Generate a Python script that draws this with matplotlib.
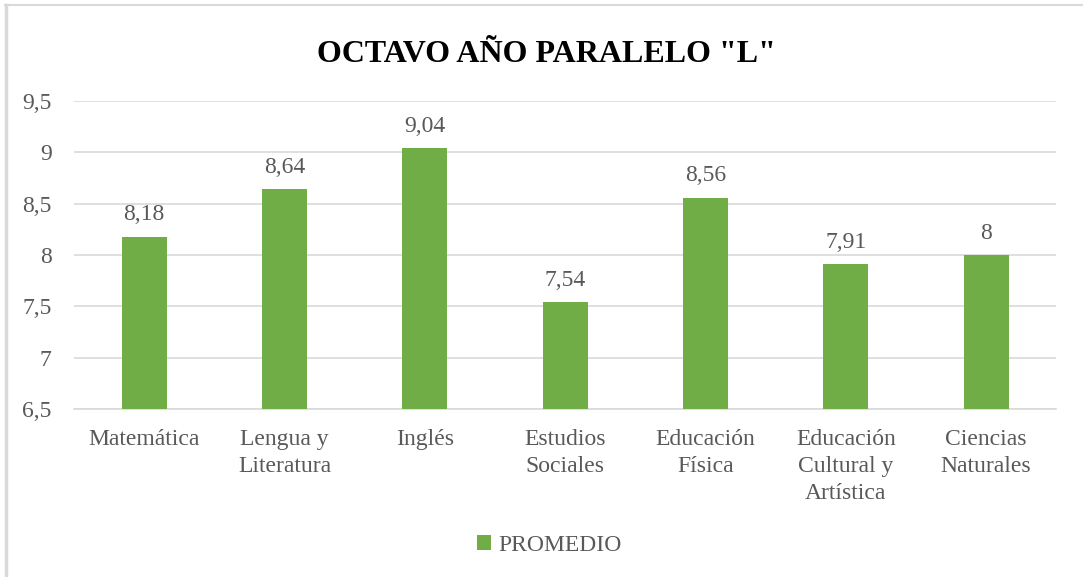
import matplotlib
matplotlib.use("Agg")
import matplotlib.pyplot as plt
from matplotlib.lines import Line2D

categories = ["Matemática", "Lengua y\nLiteratura", "Inglés", "Estudios\nSociales",
              "Educación\nFísica", "Educación\nCultural y\nArtística", "Ciencias\nNaturales"]
values = [8.18, 8.64, 9.04, 7.54, 8.56, 7.91, 8.0]
value_labels = ["8,18", "8,64", "9,04", "7,54", "8,56", "7,91", "8"]
yticks = [6.5, 7, 7.5, 8, 8.5, 9, 9.5]
ytick_labels = ["6,5", "7", "7,5", "8", "8,5", "9", "9,5"]
title = 'OCTAVO AÑO PARALELO "L"'
series_name = "PROMEDIO"

plt.rcParams['font.family'] = ['Liberation Serif', 'DejaVu Serif']
green = "#70AD47"
txt = "#595959"

fig = plt.figure(figsize=(10.83, 5.77), dpi=100)
ax = fig.add_axes([0.0683, 0.291, 0.907, 0.534])

x = list(range(len(categories)))
bars = ax.bar(x, values, width=0.32, color=green, zorder=3, label=series_name)
ax.set_ylim(6.5, 9.5)
ax.set_xlim(-0.5, len(categories) - 0.5)
ax.set_yticks(yticks)
ax.set_yticklabels(ytick_labels, fontsize=17, color=txt)
ax.set_xticks(x)
ax.set_xticklabels(categories, fontsize=17, color=txt, linespacing=1.4, va='top')
ax.tick_params(axis='both', length=0)
ax.tick_params(axis='x', pad=14)
ax.tick_params(axis='y', pad=16)
ax.grid(axis='y', color="#D9D9D9", linewidth=1.2, zorder=0)
for s in ['top', 'right', 'left']:
    ax.spines[s].set_visible(False)
ax.spines['bottom'].set_color("#D9D9D9")
ax.spines['bottom'].set_linewidth(1.2)

for xi, v, lab in zip(x, values, value_labels):
    ax.annotate(lab, (xi, v), xytext=(0, 8), textcoords='offset points',
                ha='center', va='bottom', fontsize=17, color=txt)

fig.text(0.505, 0.906, title, ha='center', va='center', fontsize=23,
         fontweight='bold', color='black')

leg = fig.legend(handles=[bars], labels=[series_name], loc='center',
                 bbox_to_anchor=(0.507, 0.055), frameon=False, fontsize=17,
                 handlelength=0.6, handleheight=0.6, handletextpad=0.3)
for t in leg.get_texts():
    t.set_color(txt)

# figure frame (left and top edges)
fig.add_artist(Line2D([6 / 1083, 6 / 1083], [0, 1 - 5 / 577], transform=fig.transFigure,
                      color="#D9D9D9", linewidth=2.5))
fig.add_artist(Line2D([5 / 1083, 1], [1 - 5 / 577, 1 - 5 / 577], transform=fig.transFigure,
                      color="#D9D9D9", linewidth=1.5))

fig.savefig("out.png", dpi=100)
